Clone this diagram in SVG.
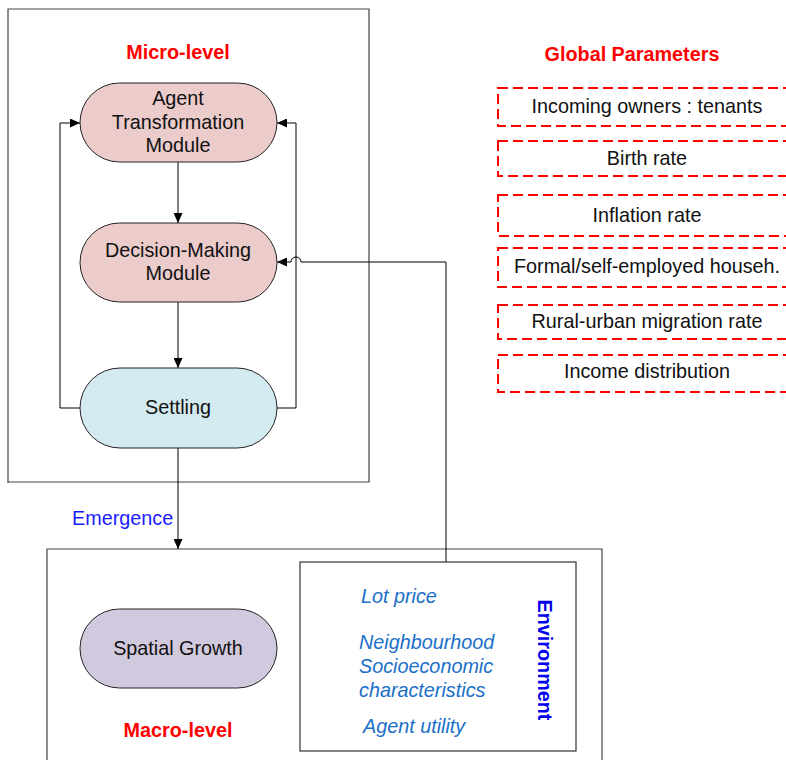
<svg xmlns="http://www.w3.org/2000/svg" width="786" height="760" viewBox="0 0 786 760">
<defs>
<marker id="ah" markerUnits="userSpaceOnUse" markerWidth="11" markerHeight="9" refX="10" refY="4.5" orient="auto"><path d="M0,0 L10,4.5 L0,9 z" fill="#000"/></marker>
<style>
.t{font-family:"Liberation Sans",Arial,sans-serif;font-size:19.8px;fill:#111;text-anchor:middle}
.title{font-family:"Liberation Sans",Arial,sans-serif;font-size:19.8px;font-weight:bold;fill:#ff0000;text-anchor:middle}
.it{font-family:"Liberation Sans",Arial,sans-serif;font-size:19.8px;font-style:italic;fill:#1b6fc8}
.frame{fill:none;stroke:#444;stroke-width:1.2}
.node{stroke:#222;stroke-width:1}
.par{fill:none;stroke:#ff0000;stroke-width:2;stroke-dasharray:10,5}
.c{fill:none;stroke:#000;stroke-width:1}
</style>
</defs>
<rect width="786" height="760" fill="#fff"/>
<g id="micro-frame">
<path class="frame" d="M8,483 V9 H369 V482 H8"/>
<text class="title" x="178" y="59">Micro-level</text>
</g>
<g id="macro-frame">
<path class="frame" d="M47,762 V549 H602 V762"/>
<text class="title" x="178" y="737">Macro-level</text>
</g>
<g id="connectors">
<path class="c" d="M178,162 V223" marker-end="url(#ah)"/>
<path class="c" d="M178,302 V368" marker-end="url(#ah)"/>
<path class="c" d="M178,448 V549" marker-end="url(#ah)"/>
<path class="c" d="M80,408 H60 V123 H80" marker-end="url(#ah)"/>
<path class="c" d="M277,408 H296 V123 H277" marker-end="url(#ah)"/>
<path class="c" d="M446,562 V262 H301 A5,5 0 0 0 291,262 H277" marker-end="url(#ah)"/>
<text x="72" y="525" style="font-family:'Liberation Sans',Arial,sans-serif;font-size:19.8px;fill:#1a1aff">Emergence</text>
</g>
<g id="agent-transformation">
<rect class="node" x="80" y="83" width="197" height="79" rx="39.5" fill="#ebcccb"/>
<text class="t" x="178" y="105">Agent</text>
<text class="t" x="178" y="129">Transformation</text>
<text class="t" x="178" y="152">Module</text>
</g>
<g id="decision-making">
<rect class="node" x="80" y="223" width="197" height="79" rx="39.5" fill="#ebcccb"/>
<text class="t" x="178" y="257">Decision-Making</text>
<text class="t" x="178" y="280">Module</text>
</g>
<g id="settling">
<rect class="node" x="80" y="368" width="197" height="80" rx="40" fill="#d3eaf0"/>
<text class="t" x="178" y="414">Settling</text>
</g>
<g id="spatial-growth">
<rect class="node" x="80" y="609" width="197" height="79" rx="39.5" fill="#d1c9de"/>
<text class="t" x="178" y="655">Spatial Growth</text>
</g>
<g id="environment">
<rect x="300" y="562" width="276" height="189" fill="#fff" stroke="#333" stroke-width="1.2"/>
<text class="it" x="361" y="603">Lot price</text>
<text class="it" x="359" y="649">Neighbourhood</text>
<text class="it" x="359" y="673">Socioeconomic</text>
<text class="it" x="359" y="697">characteristics</text>
<text class="it" x="363" y="733">Agent utility</text>
<text transform="translate(538,660) rotate(90)" text-anchor="middle" style="font-family:'Liberation Sans',Arial,sans-serif;font-size:19.8px;font-weight:bold;fill:#0000ee">Environment</text>
</g>
<g id="global-parameters">
<text class="title" x="632" y="61">Global Parameters</text>
<rect class="par" x="498" y="88" width="300" height="38"/>
<text class="t" x="647" y="113">Incoming owners : tenants</text>
<rect class="par" x="498" y="141" width="300" height="35"/>
<text class="t" x="647" y="165">Birth rate</text>
<rect class="par" x="498" y="195" width="300" height="41"/>
<text class="t" x="647" y="222">Inflation rate</text>
<rect class="par" x="498" y="248" width="300" height="39"/>
<text class="t" x="647" y="273">Formal/self-employed househ.</text>
<rect class="par" x="498" y="305" width="300" height="34"/>
<text class="t" x="647" y="328">Rural-urban migration rate</text>
<rect class="par" x="498" y="355" width="300" height="37"/>
<text class="t" x="647" y="378">Income distribution</text>
</g>
</svg>
